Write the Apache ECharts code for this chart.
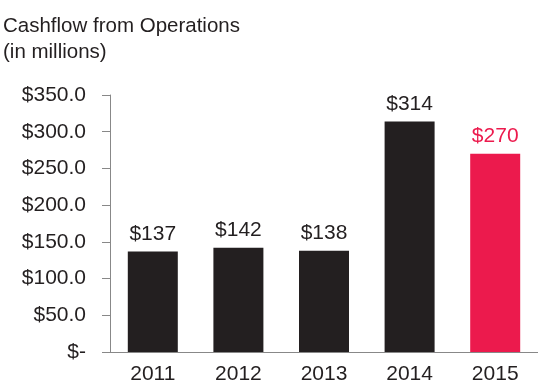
<!DOCTYPE html>
<html><head><meta charset="utf-8">
<script src="https://cdn.jsdelivr.net/npm/echarts@6/dist/echarts.min.js"></script>
<style>html,body{margin:0;padding:0;background:#fff}#c{width:538px;height:385px}</style>
</head><body><div id="c"></div>
<script>
const categories = ['2011','2012','2013','2014','2015'];
const values = [137, 142, 138, 314, 270];
const valueLabels = ['$137','$142','$138','$314','$270'];
const yTicks = [0, 50, 100, 150, 200, 250, 300, 350];
const dark = '#231f20', pink = '#ec1a4d';
const chart = echarts.init(document.getElementById('c'));
const font = '"Liberation Sans", Arial, Helvetica, sans-serif';
chart.setOption({
  animation: false,
  title: {
    text: 'Cashflow from Operations\n(in millions)',
    left: -2, top: 8,
    textStyle: {fontFamily: font, fontSize: 20.5, fontWeight: 'normal', color: dark, lineHeight: 26}
  },
  grid: {left: 110, top: 95, width: 432, height: 262, containLabel: false},
  xAxis: {
    type: 'category', data: categories,
    axisLine: {lineStyle: {color: '#888', width: 1}},
    axisTick: {show: false},
    axisLabel: {fontFamily: font, fontSize: 21, color: dark, margin: 12}
  },
  yAxis: {
    type: 'value', min: yTicks[0], max: yTicks[yTicks.length-1], interval: 50,
    axisLine: {show: true, lineStyle: {color: '#888', width: 1}},
    axisTick: {show: true, inside: false, length: 8, lineStyle: {color: '#888'}},
    splitLine: {show: false},
    axisLabel: {fontFamily: font, fontSize: 21, color: dark, margin: 24,
      formatter: v => v === 0 ? '$-' : '$' + v.toFixed(1)}
  },
  series: [{
    type: 'bar', barWidth: 50,
    data: values.map((v, i) => ({
      value: v,
      itemStyle: {color: i === 4 ? pink : dark},
      label: {show: true, position: 'top', distance: 7, formatter: valueLabels[i],
        fontFamily: font, fontSize: 21, color: i === 4 ? pink : dark}
    }))
  }]
});
</script></body></html>
